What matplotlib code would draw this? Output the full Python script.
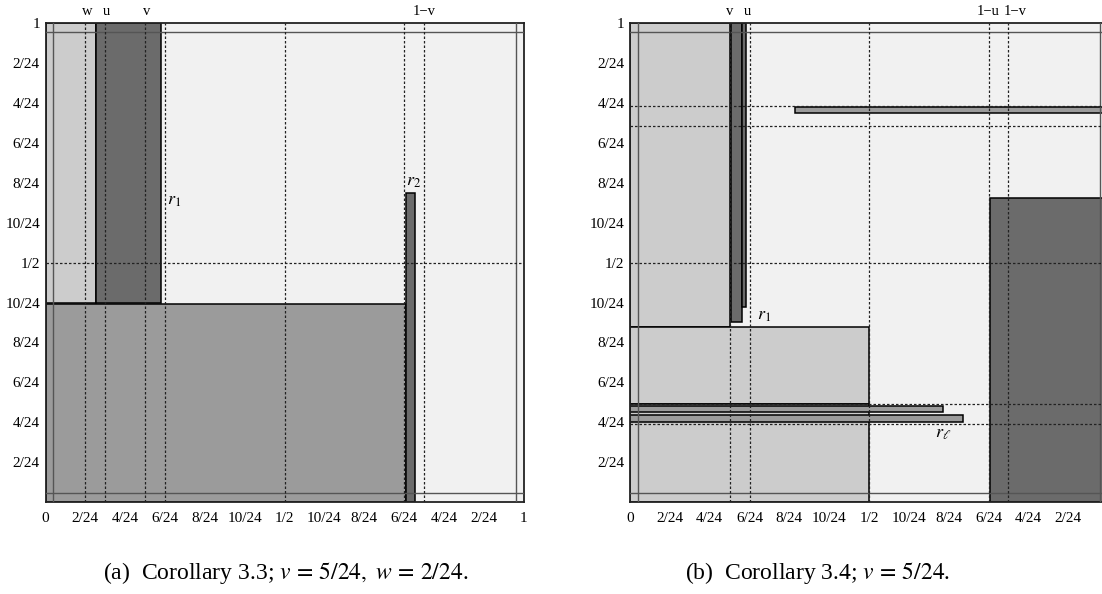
import matplotlib
matplotlib.use('Agg')
import matplotlib.pyplot as plt

plt.rcParams['font.family'] = ['Liberation Serif', 'DejaVu Serif']
plt.rcParams['mathtext.fontset'] = 'stix'

# tick positions / labels (same on both panels)
xtick_pos = [0, 2/24, 4/24, 6/24, 8/24, 10/24, 12/24, 14/24, 16/24, 18/24, 20/24, 22/24, 1]
xtick_labels = ['0', '2/24', '4/24', '6/24', '8/24', '10/24', '1/2',
                '10/24', '8/24', '6/24', '4/24', '2/24', '1']
ytick_pos = [2/24, 4/24, 6/24, 8/24, 10/24, 12/24, 14/24, 16/24, 18/24, 20/24, 22/24, 1]
ytick_labels = ['2/24', '4/24', '6/24', '8/24', '10/24', '1/2',
                '10/24', '8/24', '6/24', '4/24', '2/24', '1']

# panel (a): Corollary 3.3
a_top_pos = [2/24, 3/24, 5/24, 19/24]
a_top_labels = ['w', 'u', 'v', '1\u2212v']
a_vlines = [2/24, 3/24, 5/24, 6/24, 12/24, 18/24, 19/24]
a_hlines = [12/24]
a_x0 = [0.0, 0.105, 0.0, 0.7536]
a_x1 = [0.105, 0.2423, 0.7536, 0.7724]
a_y0 = [0.4163, 0.4163, 0.0, 0.0]
a_y1 = [1.0, 1.0, 0.4130, 0.6461]
a_shade = ['light', 'dark', 'mid', 'dark']

# panel (b): Corollary 3.4
b_top_pos = [5/24, 6/24, 18/24, 19/24]
b_top_labels = ['v', 'u', '1\u2212u', '1\u2212v']
b_vlines = [5/24, 6/24, 12/24, 18/24, 19/24]
b_hlines = [0.8279, 0.7861, 12/24, 0.2047, 0.1629]
b_x0 = [0.0, 0.2113, 0.2333, 0.0, 0.0, 0.3452, 0.7531, 0.0, 0.0]
b_x1 = [0.2086, 0.2333, 0.2421, 0.5, 0.5, 1.02, 1.02, 0.6542, 0.696]
b_y0 = [0.3662, 0.3754, 0.4080, 0.2047, 0.0, 0.8120, 0.0, 0.1874, 0.1665]
b_y1 = [1.0, 1.0, 1.0, 0.3662, 0.2047, 0.8258, 0.6357, 0.2012, 0.1817]
b_shade = ['light', 'dark', 'dark', 'light', 'light', 'mid', 'dark', 'mid', 'mid']

shades = {'light': '#cccccc', 'mid': '#9b9b9b', 'dark': '#6b6b6b'}
eps_x, eps_y = 0.016, 0.0185


def draw_panel(ax, x0, x1, y0, y1, shade, vlines, hlines, top_pos, top_labels, top_dx, xlabels):
    ax.set_xlim(0, 1)
    ax.set_ylim(0, 1)
    ax.set_facecolor('#f1f1f1')
    for a, b, c, d, s in zip(x0, x1, y0, y1, shade):
        ax.bar(a, d - c, width=b - a, bottom=c, align='edge',
               color=shades[s], edgecolor='black', linewidth=1.1, zorder=2)
    # thin boundary strips
    for x in [eps_x, 1 - eps_x]:
        ax.axvline(x, color='#555555', lw=1.0, zorder=3)
    for y in [eps_y, 1 - eps_y]:
        ax.axhline(y, color='#555555', lw=1.0, zorder=3)
    for x in vlines:
        ax.axvline(x, color='#222222', lw=0.9, ls=(0, (2, 1.6)), zorder=4)
    for y in hlines:
        ax.axhline(y, color='#222222', lw=0.9, ls=(0, (2, 1.6)), zorder=4)
    for sp in ax.spines.values():
        sp.set_linewidth(1.3)
        sp.set_color('#222222')
    ax.set_xticks(xtick_pos, xlabels)
    ax.set_yticks(ytick_pos, ytick_labels)
    ax.tick_params(axis='x', length=0, pad=7, labelsize=11)
    ax.tick_params(axis='y', length=0, pad=4, labelsize=11)
    # labels above the frame
    for x, lbl, dx in zip(top_pos, top_labels, top_dx):
        ax.annotate(lbl, xy=(x, 1), xycoords=('data', 'axes fraction'),
                    xytext=(dx, 4), textcoords='offset points',
                    ha='center', va='bottom', fontsize=10.5)


fig = plt.figure(figsize=(11.02, 5.94), dpi=100)
W, H = 1102, 594
ax_a = fig.add_axes([45.5 / W, (H - 502) / H, 478 / W, 478.7 / H])
ax_b = fig.add_axes([630 / W, (H - 502) / H, 478 / W, 478.7 / H])

draw_panel(ax_a, a_x0, a_x1, a_y0, a_y1, a_shade, a_vlines, a_hlines,
           a_top_pos, a_top_labels, [1.5, 1, 1, 0], xtick_labels)
draw_panel(ax_b, b_x0, b_x1, b_y0, b_y1, b_shade, b_vlines, b_hlines,
           b_top_pos, b_top_labels, [0, -1.5, 0, 5], xtick_labels[:-1] + [''])

ax_a.text(0.255, 0.63, r'$r_1$', fontsize=13, va='center', ha='left', zorder=5)
ax_a.text(0.754, 0.6695, r'$r_2$', fontsize=13, va='center', ha='left', zorder=5)
ax_b.text(0.265, 0.3906, r'$r_1$', fontsize=13, va='center', ha='left', zorder=5)
ax_b.text(0.638, 0.144, r'$r_\ell$', fontsize=13, va='center', ha='left', zorder=5)

fig.text(286 / W, (H - 573) / H, r'(a)  Corollary 3.3; $v\,=\,5/24,\ w\,=\,2/24$.',
         ha='center', va='center', fontsize=17)
fig.text(818 / W, (H - 573) / H, r'(b)  Corollary 3.4; $v\,=\,5/24$.',
         ha='center', va='center', fontsize=17)

fig.savefig('out.png', dpi=100)
